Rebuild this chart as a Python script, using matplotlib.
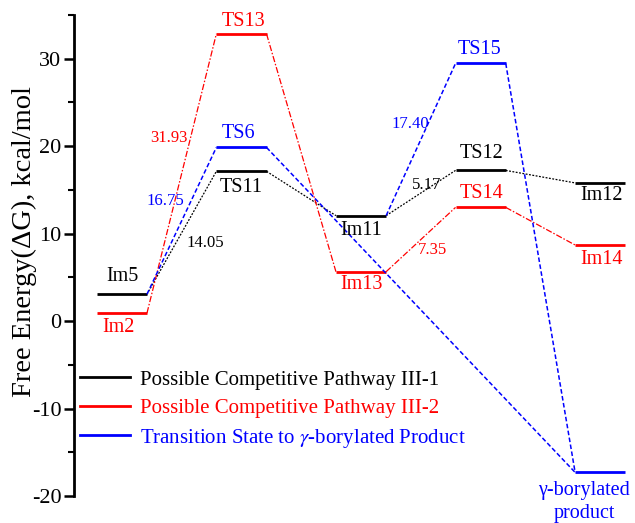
import matplotlib
matplotlib.use("Agg")
import matplotlib.pyplot as plt
from matplotlib.lines import Line2D
from matplotlib.ticker import MultipleLocator

plt.rcParams['font.family'] = ['Liberation Serif', 'DejaVu Serif']
plt.rcParams['mathtext.fontset'] = 'stix'
plt.rcParams['axes.unicode_minus'] = False

# ---- data ----
black_names = ['Im5', 'TS11', 'Im11', 'TS12', 'Im12']
black_pos = [1, 2, 3, 4, 5]
black_E = [3.07, 17.12, 12.06, 17.23, 15.80]

red_names = ['Im2', 'TS13', 'Im13', 'TS14', 'Im14']
red_pos = [1, 2, 3, 4, 5]
red_E = [0.90, 32.83, 5.65, 13.00, 8.70]

blue_names = ['TS6', 'TS15', 'γ-borylated\nproduct']
blue_pos = [2, 4, 5]
blue_E = [19.85, 29.46, -17.30]

# blue connections: (from pos, from E) -> (to pos, to E)
blue_links = [((1, 3.07), (2, 19.85)), ((2, 19.85), (5, -17.30)),
              ((3, 12.06), (4, 29.46)), ((4, 29.46), (5, -17.30))]

barriers = ['31.93', '16.75', '14.05', '17.40', '5.17', '7.35']
barrier_colors = ['red', 'blue', 'black', 'blue', 'black', 'red']
barrier_xy = [(1.393, 20.97), (1.36, 13.77), (1.694, 8.97),
              (3.412, 22.57), (3.55, 15.6), (3.60, 8.17)]

legend_labels = ['Possible Competitive Pathway III-1',
                 'Possible Competitive Pathway III-2',
                 r'Transition State to $\gamma$-borylated Product']

# label offsets in pixels (dx, dy; positive dy = above)
black_off = [(1, 18), (0, -16), (0, -15), (1, 17), (1, -13)]
red_off = [(-3, -14), (2, 12), (0, -13), (1, 14), (1, -14)]
blue_off = [(-3, 14), (-1, 14), (-16, -30)]

# ---- figure ----
fig = plt.figure(figsize=(6.35, 5.23), dpi=100)
ax = fig.add_axes([74/635, 1 - 496/523, 1 - 74/635, (496 - 15)/523])

hw = 0.21
lw_level = 2.0


def draw_path(pos, E, color, ls, lw):
    for i in range(len(pos)):
        ax.plot([pos[i] - hw, pos[i] + hw], [E[i], E[i]], color=color,
                lw=lw_level, solid_capstyle='butt')
    for i in range(len(pos) - 1):
        ax.plot([pos[i] + hw, pos[i + 1] - hw], [E[i], E[i + 1]],
                color=color, ls=ls, lw=lw)


draw_path(black_pos, black_E, 'black', (0, (1.5, 1.2)), 0.9)
draw_path(red_pos, red_E, '#ff0000', (0, (5, 1.5, 1.2, 1.5)), 0.9)

for p, e in zip(blue_pos, blue_E):
    ax.plot([p - hw, p + hw], [e, e], color='#0000ff', lw=lw_level,
            solid_capstyle='butt')
for (p0, e0), (p1, e1) in blue_links:
    ax.plot([p0 + hw, p1 - hw], [e0, e1], color='#0000ff',
            ls=(0, (3, 1.6)), lw=1.1)


def label(names, pos, E, offs, color, size=14.5):
    for n, p, e, (dx, dy) in zip(names, pos, E, offs):
        ax.annotate(n, (p, e), xytext=(dx / 1.389, dy / 1.389),
                    textcoords='offset points', ha='center', va='center',
                    color=color, fontsize=size, annotation_clip=False,
                    linespacing=1.3)


label(black_names, black_pos, black_E, black_off, 'black')
label(red_names, red_pos, red_E, red_off, '#ff0000')
label(blue_names, blue_pos, blue_E, blue_off, '#0000ff')

for t, c, (x, y) in zip(barriers, barrier_colors, barrier_xy):
    col = {'red': '#ff0000', 'blue': '#0000ff', 'black': 'black'}[c]
    ax.text(x, y, t, color=col, fontsize=12, ha='center', va='center')

ax.set_xlim(0.6, 0.6 + 561 / 119.6)
ax.set_ylim(-20, 35)

for s in ['top', 'right', 'bottom']:
    ax.spines[s].set_visible(False)
ax.spines['left'].set_linewidth(2)
ax.set_xticks([])
ax.yaxis.set_major_locator(MultipleLocator(10))
ax.yaxis.set_minor_locator(MultipleLocator(5))
ax.set_yticks([-20, -10, 0, 10, 20, 30])
ax.tick_params(axis='y', which='major', length=7, width=1.8, labelsize=16, pad=2)
ax.tick_params(axis='y', which='minor', length=4, width=1.5)

ax.set_ylabel('Free Energy(ΔG), kcal/mol', fontsize=20.5, va='center')
ax.yaxis.set_label_coords(-50 / 561, (496 - 242) / 481)

handles = [Line2D([0], [0], color=c, lw=2) for c in ['black', '#ff0000', '#0000ff']]
leg = ax.legend(handles, legend_labels, loc='upper left',
                bbox_to_anchor=(0.0107, 0.262), frameon=False, fontsize=15,
                handlelength=2.4, handletextpad=0.5, labelspacing=0.42,
                borderpad=0, borderaxespad=0, labelcolor='linecolor')

fig.savefig('out.png', dpi=100)
